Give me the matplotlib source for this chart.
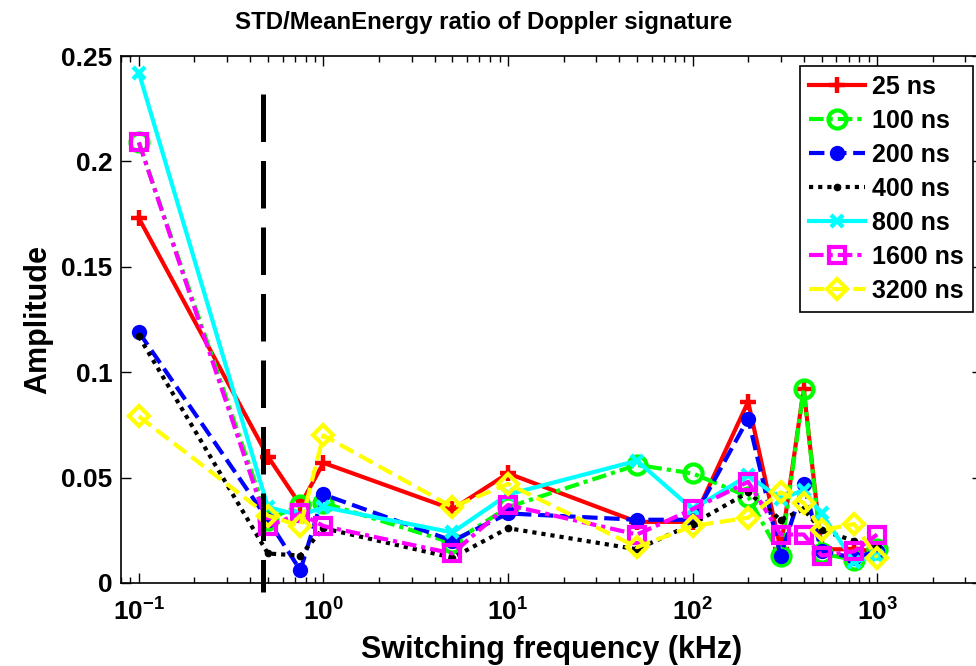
import matplotlib
matplotlib.use("Agg")
import matplotlib.pyplot as plt
from matplotlib.ticker import FixedLocator, FixedFormatter, LogLocator, NullFormatter

plt.rcParams['font.family'] = ['Liberation Sans', 'DejaVu Sans']
plt.rcParams['font.weight'] = 'bold'
plt.rcParams['mathtext.fontset'] = 'custom'
plt.rcParams['mathtext.rm'] = 'Liberation Sans:bold'
plt.rcParams['mathtext.bf'] = 'Liberation Sans:bold'

# switching frequencies (kHz)
freq = [0.1, 0.5, 0.75, 1, 5, 10, 50, 100, 200, 300, 400, 500, 750, 1000]

ns25 = [0.173, 0.060, 0.037, 0.057, 0.035, 0.052, 0.029, 0.029, 0.086, 0.016, 0.092, 0.016, 0.016, 0.015]
ns100 = [0.209, 0.030, 0.037, 0.038, 0.019, 0.036, 0.056, 0.052, 0.041, 0.013, 0.092, 0.014, 0.011, 0.016]
ns200 = [0.119, 0.030, 0.006, 0.042, 0.020, 0.033, 0.030, 0.030, 0.078, 0.013, 0.047, 0.015, 0.012, 0.015]
ns400 = [0.117, 0.014, 0.013, 0.026, 0.012, 0.026, 0.016, 0.028, 0.043, 0.030, 0.035, 0.025, 0.020, 0.017]
ns800 = [0.242, 0.036, 0.032, 0.036, 0.024, 0.042, 0.058, 0.035, 0.051, 0.040, 0.044, 0.033, 0.010, 0.013]
ns1600 = [0.209, 0.027, 0.033, 0.027, 0.014, 0.037, 0.023, 0.035, 0.048, 0.023, 0.023, 0.013, 0.015, 0.023]
ns3200 = [0.079, 0.032, 0.027, 0.070, 0.036, 0.047, 0.017, 0.027, 0.031, 0.043, 0.038, 0.025, 0.028, 0.012]

labels = ['25 ns', '100 ns', '200 ns', '400 ns', '800 ns', '1600 ns', '3200 ns']
threshold_khz = 0.47

yticks = [0, 0.05, 0.1, 0.15, 0.2, 0.25]
ytick_labels = ['0', '0.05', '0.1', '0.15', '0.2', '0.25']
xticks = [0.1, 1, 10, 100, 1000]
xtick_labels = [r'$\mathbf{10^{-1}}$', r'$\mathbf{10^{0}}$', r'$\mathbf{10^{1}}$',
                r'$\mathbf{10^{2}}$', r'$\mathbf{10^{3}}$']

fig = plt.figure(figsize=(9.76, 6.66), dpi=100)
ax = fig.add_axes([121 / 976, 1 - 583 / 666, 861 / 976, 527 / 666])

lw = 3.0
dashdot = (0, (3.5, 1.2, 1, 1.2))
dotted = (0, (1, 1.2))
styles = [
    dict(color='#ff0000', ls='-', marker='+', ms=12, mew=3.2, mfc='none'),
    dict(color='#00ff00', ls=dashdot, marker='o', ms=13, mew=3, mfc='none'),
    dict(color='#0000ff', ls='--', marker='o', ms=9.5, mew=1.5, mfc='#0000ff'),
    dict(color='#000000', ls=dotted, marker='.', ms=7, mew=2, mfc='#000000'),
    dict(color='#00ffff', ls='-', marker='x', ms=9, mew=3.2, mfc='none'),
    dict(color='#ff00ff', ls=dashdot, marker='s', ms=11.5, mew=3, mfc='none'),
    dict(color='#ffff00', ls='--', marker='D', ms=10.5, mew=3, mfc='none'),
]
series = [ns25, ns100, ns200, ns400, ns800, ns1600, ns3200]
for vals, lab, st in zip(series, labels, styles):
    ax.plot(freq, vals, lw=lw, label=lab, clip_on=False, **st)

ax.plot([threshold_khz, threshold_khz], [0.232, -0.0043], color='k', lw=3.6,
        ls=(0, (9.5, 3.8)), clip_on=False, solid_capstyle='butt', dash_capstyle='butt')

ax.set_xscale('log')
ax.set_xlim(0.08, 3700)
ax.set_ylim(0, 0.25)
ax.xaxis.set_major_locator(FixedLocator(xticks))
ax.xaxis.set_major_formatter(FixedFormatter(xtick_labels))
ax.xaxis.set_minor_locator(LogLocator(base=10, subs=range(2, 10), numticks=20))
ax.xaxis.set_minor_formatter(NullFormatter())
ax.yaxis.set_major_locator(FixedLocator(yticks))
ax.yaxis.set_major_formatter(FixedFormatter(ytick_labels))

ax.tick_params(which='both', direction='in', top=True, right=True, width=1, colors='k')
ax.tick_params(which='major', length=7, labelsize=19)
ax.tick_params(axis='y', which='major', pad=6)
ax.tick_params(axis='x', which='major', pad=11)
ax.tick_params(which='minor', length=4)
for lab in ax.get_yticklabels():
    lab.set_fontweight('bold')
for sp in ax.spines.values():
    sp.set_linewidth(1.2)

ax.set_xlabel('Switching frequency (kHz)', fontsize=22, fontweight='bold')
ax.xaxis.label.set_va('baseline')
ax.xaxis.set_label_coords(0.5, (583 - 658) / 527)
ax.set_ylabel('Amplitude', fontsize=22, fontweight='bold', labelpad=6)
fig.text(484 / 976, 1 - 22 / 666, 'STD/MeanEnergy ratio of Doppler signature',
         ha='center', va='center', fontsize=17.3, fontweight='bold')

leg = ax.legend(loc='upper left', bbox_to_anchor=(800 / 976, 1 - 66 / 666),
                bbox_transform=fig.transFigure, frameon=True,
                fancybox=False, edgecolor='k', framealpha=1, borderpad=0.35,
                labelspacing=0.4, handlelength=2.25, handletextpad=0.28,
                borderaxespad=0, prop={'weight': 'bold', 'size': 18})
leg.get_frame().set_linewidth(1.2)

fig.savefig('out.png', dpi=100)
